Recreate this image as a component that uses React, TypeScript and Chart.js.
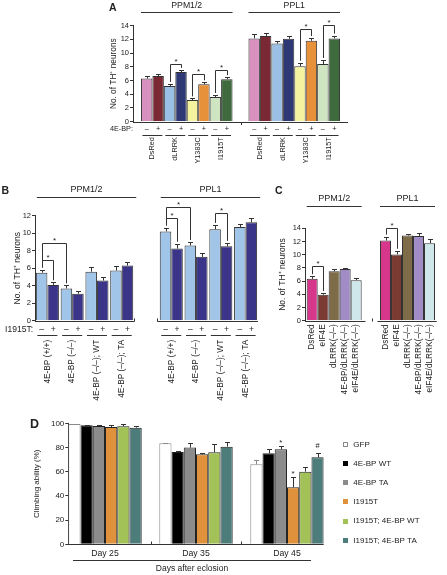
import React, { useEffect, useRef } from "react";
import { Chart, registerables } from "chart.js";

Chart.register(...registerables);

const FONT = '"Liberation Sans", Arial, Helvetica, sans-serif';
const INK = "#222222";
const LINE = "#333333";
const CW = 447;
const CH = 575;
const Y_AXIS_W = 30;

// ---------------- Panel A ----------------
const aGroups = ["PPM1/2", "PPL1"];
const aGenotypes = ["DsRed", "dLRRK", "Y1383C", "I1915T"];
const aTreatments = ["–", "+"];
const aPPMMean = [6.3, 6.65, 5.2, 7.25, 3.15, 5.45, 3.6, 6.2];
const aPPMErr = [0.3, 0.35, 0.3, 0.3, 0.25, 0.3, 0.3, 0.3];
const aPPLMean = [12.15, 12.5, 11.4, 12.1, 8.1, 11.8, 8.4, 12.15];
const aPPLErr = [0.6, 0.5, 0.4, 0.4, 0.5, 0.4, 0.6, 0.4];
// [group, genotype, bracket level]
const aBrackets = [
  [0, 1, 8.45],
  [0, 2, 6.95],
  [0, 3, 7.55],
  [1, 2, 13.5],
  [1, 3, 14.1],
];
const aColors = ["#d890bf", "#7a2934", "#9bc0e5", "#2d3875", "#f5f3a0", "#e8913b", "#cfe4c0", "#3f6a3e"];

// ---------------- Panel B ----------------
const bGroups = ["PPM1/2", "PPL1"];
const bGenotypes = ["4E-BP (+/+)", "4E-BP (–/–)", "4E-BP (–/–); WT", "4E-BP (–/–); TA"];
const bTreatments = ["–", "+"];
const bPPMMinus = [5.5, 3.7, 5.6, 5.75];
const bPPMMinusErr = [0.35, 0.35, 0.5, 0.45];
const bPPMPlus = [4.1, 3.1, 4.6, 6.3];
const bPPMPlusErr = [0.3, 0.35, 0.4, 0.4];
const bPPLMinus = [10.2, 8.6, 10.45, 10.7];
const bPPLMinusErr = [0.45, 0.4, 0.5, 0.4];
const bPPLPlus = [8.25, 7.3, 8.5, 11.25];
const bPPLPlusErr = [0.55, 0.4, 0.4, 0.5];
// [group, genotypeA, treatmentA, genotypeB, treatmentB, level]
const bBrackets = [
  [0, 0, 0, 0, 1, 6.95],
  [0, 0, 0, 1, 0, 8.85],
  [1, 0, 0, 0, 1, 11.7],
  [1, 0, 0, 1, 0, 13.0],
  [1, 2, 0, 2, 1, 12.35],
];
const bColors = ["#a0c5e8", "#3b358a"];

// ---------------- Panel C ----------------
const cGroups = ["PPM1/2", "PPL1"];
const cGenotypes = ["DsRed", "eIF4E", "dLRRK(–/–)", "4E-BP/dLRRK(–/–)", "eIF4E/dLRRK(–/–)"];
const cPPM = [6.35, 3.95, 7.5, 7.85, 6.15];
const cPPMErr = [0.4, 0.25, 0.4, 0.15, 0.3];
const cPPL = [12.15, 10.05, 12.9, 12.85, 11.75];
const cPPLErr = [0.6, 0.55, 0.3, 0.4, 0.6];
// [group, genotypeA, genotypeB, level]
const cBrackets = [
  [0, 0, 1, 8.25],
  [1, 0, 1, 14.0],
];
const cColors = ["#d6378b", "#7c3b32", "#7e6b47", "#a18cc5", "#cfe7ea"];

// ---------------- Panel D ----------------
const dDays = ["Day 25", "Day 35", "Day 45"];
const dSeries = ["GFP", "4E-BP WT", "4E-BP TA", "I1915T", "I1915T; 4E-BP WT", "I1915T; 4E-BP TA"];
const dGFP = [99.4, 83.5, 66.1];
const dGFPErr = [0.4, 0.6, 3.5];
const dWT = [98.3, 76.3, 75.2];
const dWTErr = [0.5, 1.0, 3.3];
const dTA = [97.8, 79.9, 78.5];
const dTAErr = [0.6, 3.6, 3.0];
const dI1915T = [96.9, 74.4, 47.1];
const dI1915TErr = [1.4, 1.4, 8.3];
const dI1915TWT = [97.5, 76.0, 60.0];
const dI1915TWTErr = [1.6, 6.6, 3.6];
const dI1915TTA = [96.4, 80.7, 71.9];
const dI1915TTAErr = [1.1, 3.6, 3.3];
// [day, series, symbol]
const dMarkers: [number, number, string][] = [
  [2, 2, "*"],
  [2, 3, "*"],
  [2, 5, "#"],
];
const dColors = ["#ffffff", "#000000", "#8c8c8c", "#e0913c", "#a2c257", "#4d7d7b"];

// ---------------- helpers ----------------
type Area = { l: number; t: number; r: number; b: number };

function fnt(size: number, bold = false) {
  return `${bold ? "bold " : ""}${size}px ${FONT}`;
}
function text(
  ctx: CanvasRenderingContext2D,
  s: string,
  x: number,
  y: number,
  size: number,
  align: CanvasTextAlign = "center",
  baseline: CanvasTextBaseline = "middle",
  bold = false
) {
  ctx.save();
  ctx.font = fnt(size, bold);
  ctx.fillStyle = INK;
  ctx.textAlign = align;
  ctx.textBaseline = baseline;
  ctx.fillText(s, x, y);
  ctx.restore();
}
function vtext(ctx: CanvasRenderingContext2D, s: string, x: number, y: number, size: number, align: CanvasTextAlign = "center") {
  ctx.save();
  ctx.translate(x, y);
  ctx.rotate(-Math.PI / 2);
  ctx.font = fnt(size);
  ctx.fillStyle = INK;
  ctx.textAlign = align;
  ctx.textBaseline = "middle";
  ctx.fillText(s, 0, 0);
  ctx.restore();
}
function seg(ctx: CanvasRenderingContext2D, x1: number, y1: number, x2: number, y2: number, color = LINE) {
  ctx.save();
  ctx.strokeStyle = color;
  ctx.lineWidth = 1;
  ctx.beginPath();
  ctx.moveTo(x1, y1);
  ctx.lineTo(x2, y2);
  ctx.stroke();
  ctx.restore();
}
const px = (v: number) => Math.round(v) + 0.5;
const bar = (chart: any, d: number, i: number) => chart.getDatasetMeta(d).data[i] as any;
const left = (b: any) => b.x - b.width / 2;
const right = (b: any) => b.x + b.width / 2;

function errorBar(chart: any, d: number, i: number, value: number, err: number, color = LINE) {
  const ctx = chart.ctx;
  const ys = chart.scales.y;
  const b = bar(chart, d, i);
  const x = px(b.x);
  const y0 = ys.getPixelForValue(value);
  const y1 = px(ys.getPixelForValue(value + err));
  seg(ctx, x, y0, x, y1, color);
  seg(ctx, x - 2.5, y1, x + 2.5, y1, color);
}

function bracket(chart: any, da: number, ia: number, va: number, db: number, ib: number, vb: number, level: number, mark = "*") {
  const ctx = chart.ctx;
  const ys = chart.scales.y;
  const A = bar(chart, da, ia);
  const B = bar(chart, db, ib);
  const xa = px(A.x);
  const xb = px(B.x);
  const yt = px(ys.getPixelForValue(level));
  const ya = ys.getPixelForValue(va) - 2;
  const yb = ys.getPixelForValue(vb) - 2;
  ctx.save();
  ctx.strokeStyle = LINE;
  ctx.lineWidth = 1;
  ctx.beginPath();
  ctx.moveTo(xa, ya);
  ctx.lineTo(xa, yt);
  ctx.lineTo(xb, yt);
  ctx.lineTo(xb, yb);
  ctx.stroke();
  ctx.restore();
  text(ctx, mark, (xa + xb) / 2, yt - 1, 8, "center", "alphabetic");
}

function yAxis(max: number, step: number, size: number) {
  return {
    min: 0,
    max,
    ticks: { stepSize: step, font: { family: FONT, size }, color: INK, padding: 1 },
    grid: { display: true, drawOnChartArea: false, drawTicks: true, tickLength: 3, color: LINE, lineWidth: 1 },
    border: { display: true, color: LINE, width: 1 },
    afterFit: (s: any) => {
      s.width = Y_AXIS_W;
    },
  };
}

function baseConfig(area: Area, labels: string[] | undefined, datasets: any[], x: any, y: any, plugin: any) {
  return {
    type: "bar",
    data: labels ? { labels, datasets } : { datasets },
    options: {
      responsive: false,
      maintainAspectRatio: false,
      animation: false,
      devicePixelRatio: 1,
      events: [],
      layout: { padding: { left: area.l - Y_AXIS_W, top: area.t, right: CW - area.r, bottom: CH - area.b } },
      plugins: { legend: { display: false }, tooltip: { enabled: false } },
      scales: { x, y },
    },
    plugins: [plugin],
  };
}

// ---------------- Panel builders ----------------
function panelA() {
  const area: Area = { l: 133, t: 25.7, r: 348, b: 121.7 };
  const means = [aPPMMean, aPPLMean];
  const errs = [aPPMErr, aPPLErr];
  const datasets = aColors.map((c, d) => ({
    label: `${aGenotypes[d >> 1]} ${aTreatments[d % 2]}`,
    data: [aPPMMean[d], aPPLMean[d]],
    backgroundColor: c,
    borderColor: LINE,
    borderWidth: 1,
    barPercentage: 1,
    categoryPercentage: 0.852,
  }));
  const plugin = {
    id: "panelA",
    afterDraw(chart: any) {
      const ctx = chart.ctx;
      const ys = chart.scales.y;
      const ca = chart.chartArea;
      text(ctx, "A", 109, 10.7, 10.5, "left", "alphabetic", true);
      aGroups.forEach((g, k) => {
        const x1 = left(bar(chart, 0, k));
        const x2 = right(bar(chart, 7, k));
        seg(ctx, x1, 12.5, x2, 12.5);
        text(ctx, g, (x1 + x2) / 2, 5.5, 8.7);
      });
      vtext(ctx, "No. of TH⁺ neurons", 114, (ca.top + ca.bottom) / 2, 8.3);
      const y0 = px(ys.getPixelForValue(0));
      seg(ctx, ca.left, y0, ca.right, y0);
      const xm = px((bar(chart, 7, 0).x + bar(chart, 0, 1).x) / 2);
      seg(ctx, xm, y0, xm, y0 + 2.5);
      for (let k = 0; k < 2; k++) for (let d = 0; d < 8; d++) errorBar(chart, d, k, means[k][d], errs[k][d]);
      aBrackets.forEach(([k, g, lv]) => {
        const d0 = 2 * g;
        const d1 = 2 * g + 1;
        bracket(chart, d0, k, means[k][d0] + errs[k][d0], d1, k, means[k][d1] + errs[k][d1], lv);
      });
      text(ctx, "4E-BP:", ca.left, ca.bottom + 7.5, 7.3, "right");
      aGroups.forEach((_, k) =>
        aGenotypes.forEach((name, g) => {
          const m = bar(chart, 2 * g, k);
          const p = bar(chart, 2 * g + 1, k);
          text(ctx, aTreatments[0], m.x, ca.bottom + 7.5, 7.3);
          text(ctx, aTreatments[1], p.x, ca.bottom + 7.5, 7.3);
          const yl = px(ca.bottom + 13);
          seg(ctx, left(m) + 1.5, yl, right(p) - 1.5, yl);
          vtext(ctx, name, (m.x + p.x) / 2, ca.bottom + 15.5, 7.3, "right");
        })
      );
    },
  };
  return baseConfig(area, aGroups, datasets, { type: "category", display: false }, yAxis(14, 2, 7.5), plugin);
}

function panelB() {
  const area: Area = { l: 35, t: 215.7, r: 258, b: 320.8 };
  const labels = [...bGenotypes, "", ...bGenotypes];
  const minus = [...bPPMMinus, null, ...bPPLMinus];
  const plus = [...bPPMPlus, null, ...bPPLPlus];
  const minusErr = [...bPPMMinusErr, null, ...bPPLMinusErr];
  const plusErr = [...bPPMPlusErr, null, ...bPPLPlusErr];
  const vals = [minus, plus];
  const errs = [minusErr, plusErr];
  const datasets = [minus, plus].map((data, d) => ({
    label: bTreatments[d],
    data,
    backgroundColor: bColors[d],
    borderColor: LINE,
    borderWidth: 1,
    barPercentage: 1,
    categoryPercentage: 0.93,
  }));
  const cat = (k: number, g: number) => (k === 0 ? g : bGenotypes.length + 1 + g);
  const plugin = {
    id: "panelB",
    afterDraw(chart: any) {
      const ctx = chart.ctx;
      const ys = chart.scales.y;
      const ca = chart.chartArea;
      text(ctx, "B", 1.5, 194, 10.5, "left", "alphabetic", true);
      bGroups.forEach((g, k) => {
        const x1 = left(bar(chart, 0, cat(k, 0)));
        const x2 = right(bar(chart, 1, cat(k, 3)));
        seg(ctx, x1 + 1, 197.5, x2 + 3, 197.5);
        text(ctx, g, (x1 + x2) / 2 + 2, 190, 9);
      });
      vtext(ctx, "No. of TH⁺ neurons", 18, (ca.top + ca.bottom) / 2, 8.5);
      const y0 = px(ys.getPixelForValue(0));
      const e1 = px(right(bar(chart, 1, cat(0, 3))) + 1);
      const s2 = px(left(bar(chart, 0, cat(1, 0))) - 3);
      seg(ctx, ca.left, y0, e1, y0);
      seg(ctx, e1, y0, e1, y0 - 3);
      seg(ctx, s2, y0, ca.right, y0);
      seg(ctx, s2, y0, s2, y0 - 3);
      for (let d = 0; d < 2; d++)
        for (let i = 0; i < labels.length; i++) {
          if (vals[d][i] == null) continue;
          errorBar(chart, d, i, vals[d][i] as number, errs[d][i] as number);
        }
      bBrackets.forEach(([k, ga, ta, gb, tb, lv]) => {
        const ia = cat(k, ga);
        const ib = cat(k, gb);
        bracket(
          chart,
          ta,
          ia,
          (vals[ta][ia] as number) + (errs[ta][ia] as number),
          tb,
          ib,
          (vals[tb][ib] as number) + (errs[tb][ib] as number),
          lv
        );
      });
      text(ctx, "I1915T:", ca.left - 2, ca.bottom + 8.5, 8.5, "right");
      bGroups.forEach((_, k) =>
        bGenotypes.forEach((name, g) => {
          const m = bar(chart, 0, cat(k, g));
          const p = bar(chart, 1, cat(k, g));
          text(ctx, bTreatments[0], m.x, ca.bottom + 8.5, 8.5);
          text(ctx, bTreatments[1], p.x, ca.bottom + 8.5, 8.5);
          const yl = px(ca.bottom + 14);
          seg(ctx, left(m) + 1.5, yl, right(p) - 1.5, yl);
          vtext(ctx, name, (m.x + p.x) / 2, ca.bottom + 19, 8.3, "right");
        })
      );
    },
  };
  return baseConfig(area, labels, datasets, { type: "category", display: false }, yAxis(12, 2, 7.5), plugin);
}

function panelC() {
  const area: Area = { l: 305, t: 228.3, r: 436.7, b: 320.8 };
  const means = [cPPM, cPPL];
  const errs = [cPPMErr, cPPLErr];
  const datasets = cGenotypes.map((name, g) => ({
    label: name,
    data: [cPPM[g], cPPL[g]].map((v, k) => ({ x: k, y: v })),
    backgroundColor: cColors[g],
    borderColor: LINE,
    borderWidth: 1,
    barPercentage: 1,
    categoryPercentage: 0.75,
  }));
  const plugin = {
    id: "panelC",
    afterDraw(chart: any) {
      const ctx = chart.ctx;
      const ys = chart.scales.y;
      const ca = chart.chartArea;
      text(ctx, "C", 275, 194.3, 10.5, "left", "alphabetic", true);
      cGroups.forEach((g, k) => {
        const x1 = left(bar(chart, 0, k));
        const x2 = right(bar(chart, 4, k));
        seg(ctx, x1, 206.5, x2, 206.5);
        text(ctx, g, (x1 + x2) / 2, 198.8, 9);
      });
      vtext(ctx, "No. of TH⁺ neurons", 282.5, (ca.top + ca.bottom) / 2, 8.5);
      const y0 = px(ys.getPixelForValue(0));
      const e1 = px(right(bar(chart, 4, 0)) + 3);
      const s2 = px(left(bar(chart, 0, 1)) - 3);
      seg(ctx, ca.left, y0, e1, y0);
      seg(ctx, s2, y0, ca.right, y0);
      const xm = px((e1 + s2) / 2);
      seg(ctx, xm, y0, xm, y0 - 3);
      for (let k = 0; k < 2; k++) for (let g = 0; g < cGenotypes.length; g++) errorBar(chart, g, k, means[k][g], errs[k][g]);
      cBrackets.forEach(([k, ga, gb, lv]) => {
        bracket(chart, ga, k, means[k][ga] + errs[k][ga], gb, k, means[k][gb] + errs[k][gb], lv);
      });
      cGroups.forEach((_, k) =>
        cGenotypes.forEach((name, g) => {
          const b = bar(chart, g, k);
          vtext(ctx, name, b.x, ca.bottom + 3.5, 8.3, "right");
        })
      );
    },
  };
  const x = {
    type: "linear",
    display: false,
    offset: false,
    min: -0.398,
    max: 1.398,
    ticks: { stepSize: 1, includeBounds: false },
  };
  return baseConfig(area, undefined, datasets, x, yAxis(14, 2, 7.5), plugin);
}

function panelD() {
  const area: Area = { l: 68.3, t: 423.3, r: 323.7, b: 544.3 };
  const means = [dGFP, dWT, dTA, dI1915T, dI1915TWT, dI1915TTA];
  const errs = [dGFPErr, dWTErr, dTAErr, dI1915TErr, dI1915TWTErr, dI1915TTAErr];
  const edge = (s: number) => (s === 0 ? "#8a8a8a" : "#222222");
  const datasets = dSeries.map((name, s) => ({
    label: name,
    data: means[s].map((v, k) => ({ x: k, y: v })),
    backgroundColor: dColors[s],
    borderColor: edge(s),
    borderWidth: 1,
    barPercentage: 1,
    categoryPercentage: 0.807,
  }));
  const plugin = {
    id: "panelD",
    afterDraw(chart: any) {
      const ctx = chart.ctx;
      const ys = chart.scales.y;
      const xs = chart.scales.x;
      const ca = chart.chartArea;
      text(ctx, "D", 30, 428.3, 12.5, "left", "alphabetic", true);
      vtext(ctx, "Climbing ability (%)", 37, (ca.top + ca.bottom) / 2, 8);
      const y0 = px(ys.getPixelForValue(0));
      seg(ctx, ca.left, y0, ca.right, y0);
      for (let k = 0; k < dDays.length - 1; k++) {
        const xm = px((right(bar(chart, 5, k)) + left(bar(chart, 0, k + 1))) / 2);
        seg(ctx, xm, y0, xm, y0 - 3);
      }
      for (let s = 0; s < dSeries.length; s++)
        for (let k = 0; k < dDays.length; k++) errorBar(chart, s, k, means[s][k], errs[s][k], s === 0 ? "#8a8a8a" : LINE);
      dMarkers.forEach(([k, s, sym]) => {
        const b = bar(chart, s, k);
        const yt = ys.getPixelForValue(means[s][k] + errs[s][k]);
        text(ctx, sym, b.x, sym === "*" ? yt - 1 : yt - 5, sym === "*" ? 8 : 7.5, "center", "alphabetic");
      });
      dDays.forEach((day, k) => {
        text(ctx, day, xs.getPixelForValue(k), ca.bottom + 9, 8.7);
      });
      seg(ctx, 73, 560.5, 311, 560.5);
      text(ctx, "Days after eclosion", 192, 569, 8.5);
      dSeries.forEach((name, s) => {
        const yc = 444.3 + s * 19.2;
        ctx.save();
        ctx.fillStyle = dColors[s];
        ctx.fillRect(343, Math.round(yc - 2.5), 5, 5);
        ctx.strokeStyle = s === 0 ? "#8a8a8a" : dColors[s];
        ctx.lineWidth = 1;
        ctx.strokeRect(343.5, Math.round(yc - 2.5) + 0.5, 4, 4);
        ctx.restore();
        text(ctx, name, 353.3, yc, 8, "left");
      });
    },
  };
  const x = {
    type: "linear",
    display: false,
    offset: false,
    min: -0.4035,
    max: 2.4035,
    ticks: { stepSize: 1, includeBounds: false },
  };
  return baseConfig(area, undefined, datasets, x, yAxis(100, 20, 8), plugin);
}

export default function App() {
  const r0 = useRef<HTMLCanvasElement>(null);
  const r1 = useRef<HTMLCanvasElement>(null);
  const r2 = useRef<HTMLCanvasElement>(null);
  const r3 = useRef<HTMLCanvasElement>(null);

  useEffect(() => {
    const refs = [r0, r1, r2, r3];
    const configs = [panelA(), panelB(), panelC(), panelD()];
    const charts = configs.map((cfg, i) => new Chart(refs[i].current as HTMLCanvasElement, cfg as any));
    return () => charts.forEach((c) => c.destroy());
  }, []);

  const st: React.CSSProperties = { position: "absolute", left: 0, top: 0 };
  return (
    <div style={{ position: "absolute", left: 0, top: 0, width: CW, height: CH, background: "#ffffff" }}>
      <canvas ref={r0} width={CW} height={CH} style={st} />
      <canvas ref={r1} width={CW} height={CH} style={st} />
      <canvas ref={r2} width={CW} height={CH} style={st} />
      <canvas ref={r3} width={CW} height={CH} style={st} />
    </div>
  );
}
